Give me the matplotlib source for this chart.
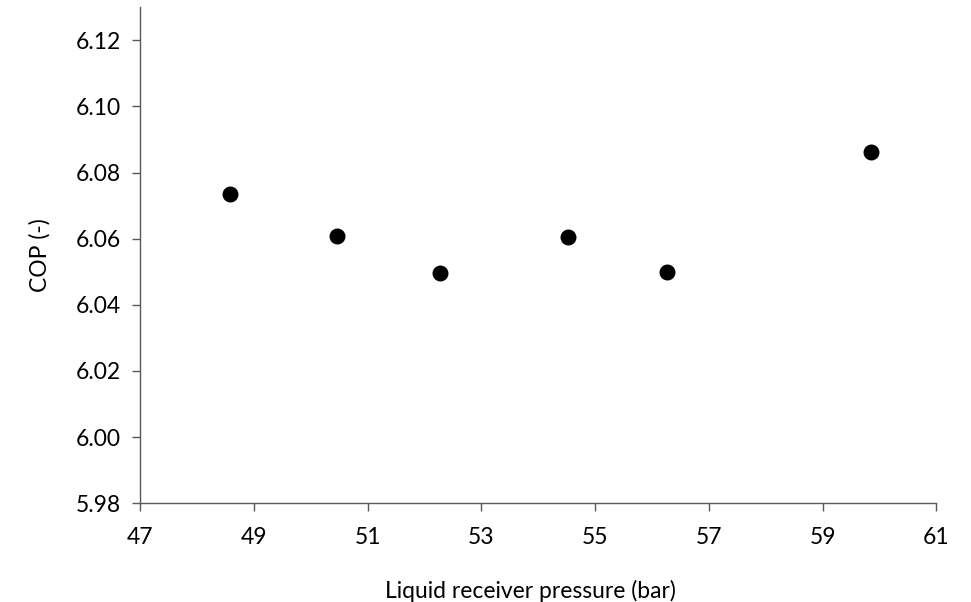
import matplotlib
matplotlib.use('Agg')
from matplotlib import pyplot as plt

# liquid receiver pressure (bar) vs COP (-)
pressure = [48.59, 50.46, 52.27, 54.53, 56.26, 59.86]
cop = [6.0736, 6.0609, 6.0496, 6.0605, 6.0499, 6.0862]

x_ticks = [47, 49, 51, 53, 55, 57, 59, 61]
y_ticks = [5.98, 6.00, 6.02, 6.04, 6.06, 6.08, 6.10, 6.12]

plt.rcParams['font.family'] = ['Lato', 'DejaVu Sans']

fig = plt.figure(figsize=(9.71, 6.02), dpi=100)
ax = fig.add_axes([0.1442, 0.164, 0.8201, 0.824])

ax.scatter(pressure, cop, s=110, color='black', zorder=3)

ax.set_xlim(47, 61)
ax.set_ylim(5.98, 6.13)
ax.set_xticks(x_ticks)
ax.set_yticks(y_ticks)
ax.set_yticklabels(['%.2f' % v for v in y_ticks])

for side in ['top', 'right']:
    ax.spines[side].set_visible(False)
for side in ['left', 'bottom']:
    ax.spines[side].set_color('#595959')
    ax.spines[side].set_linewidth(1.0)

ax.tick_params(axis='both', direction='out', length=6, width=1.0,
               color='#595959', labelsize=16.5, labelcolor='black')
ax.tick_params(axis='x', pad=11)
ax.tick_params(axis='y', pad=8)

ax.set_xlabel('Liquid receiver pressure (bar)', fontsize=16.5, labelpad=20)
ax.set_ylabel('COP (-)', fontsize=16.5, labelpad=18)
ax.xaxis.set_label_coords(0.49, -0.155)

fig.savefig('out.png', dpi=100)
